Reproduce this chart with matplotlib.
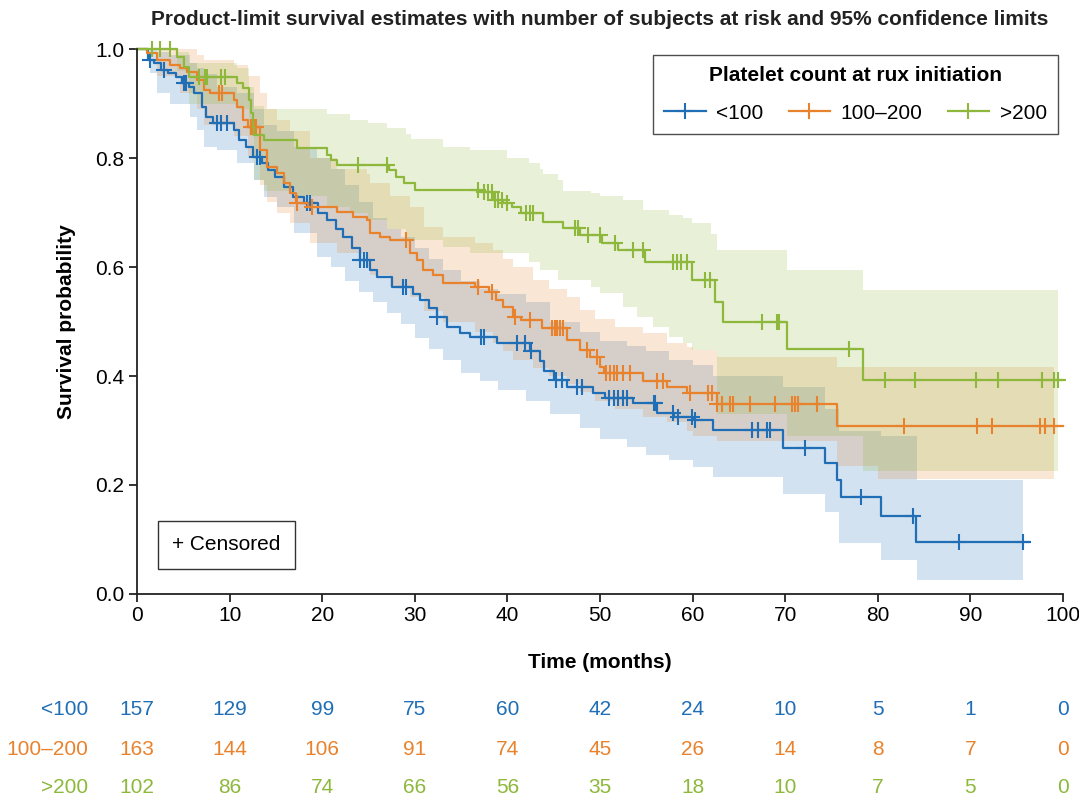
import numpy as np
import matplotlib
matplotlib.use("Agg")
import matplotlib.pyplot as plt
from matplotlib.lines import Line2D
from matplotlib.transforms import blended_transform_factory

plt.rcParams['font.family'] = ['Liberation Sans', 'DejaVu Sans']

groups = ["<100", "100\u2013200", ">200"]
colors = ["#1f6eb6", "#e9822c", "#8db83b"]

# Kaplan-Meier steps (months, survival after the event)
blue_t = [0, 1.2, 1.8, 2.6, 3.3, 4.2, 4.9, 5.6, 6.2, 7.0, 7.5, 8.2, 10.5, 11.0, 11.8, 12.5, 13.5, 14.2, 14.9, 15.9,
          16.9, 18.0, 19.5, 20.5, 21.5, 22.2, 23.2, 24.1, 25.2, 25.9, 27.5, 29.8, 30.6, 31.5, 32.4, 33.5, 34.9, 36.0,
          38.9, 42.5, 43.5, 44.0, 45.0, 46.4, 49.2, 50.5, 53.6, 56.2, 58.0, 60.0, 62.2, 69.8, 74.3, 75.6, 76.0, 80.4, 84.1]
blue_s = [1.0, 0.98, 0.974, 0.961, 0.956, 0.949, 0.937, 0.93, 0.919, 0.894, 0.875, 0.864, 0.851, 0.833, 0.82, 0.802,
          0.791, 0.778, 0.765, 0.747, 0.728, 0.717, 0.699, 0.686, 0.67, 0.655, 0.635, 0.613, 0.595, 0.582, 0.563, 0.55,
          0.539, 0.525, 0.508, 0.49, 0.479, 0.472, 0.46, 0.445, 0.428, 0.41, 0.393, 0.38, 0.369, 0.36, 0.35, 0.332,
          0.325, 0.319, 0.301, 0.268, 0.24, 0.209, 0.178, 0.143, 0.095]
blue_cens = [1.4, 2.9, 5.1, 5.3, 8.6, 9.1, 9.7, 13.0, 13.3, 18.4, 18.7, 24.1, 24.5, 24.8, 28.7, 29.1, 32.4, 37.2, 37.5,
             41.0, 41.9, 42.6, 45.3, 45.9, 47.5, 48.1, 51.0, 51.5, 52.0, 52.5, 52.9, 55.8, 56.0, 57.9, 58.4, 59.9, 60.3,
             66.4, 67.1, 68.0, 68.4, 72.1, 78.2, 83.8, 88.8, 95.7]
blue_end = 96.4

orange_t = [0, 1.1, 2.2, 3.6, 4.6, 5.4, 6.5, 7.2, 7.9, 10.5, 10.8, 11.5, 12.0, 13.3, 14.0, 15.1, 15.9, 16.5, 17.2,
            18.5, 21.6, 23.3, 24.8, 25.2, 26.2, 27.3, 29.5, 30.2, 30.9, 32.0, 33.0, 36.5, 38.0, 38.8, 39.5, 40.6, 41.5,
            43.7, 46.4, 47.8, 48.9, 50.0, 50.4, 54.6, 57.2, 59.4, 62.6, 75.6]
orange_s = [1.0, 0.992, 0.98, 0.971, 0.965, 0.958, 0.943, 0.925, 0.919, 0.906, 0.894, 0.87, 0.857, 0.815, 0.783,
            0.772, 0.754, 0.735, 0.717, 0.71, 0.701, 0.692, 0.686, 0.662, 0.655, 0.649, 0.626, 0.613, 0.594, 0.585,
            0.57, 0.563, 0.554, 0.54, 0.527, 0.508, 0.503, 0.488, 0.466, 0.448, 0.435, 0.417, 0.405, 0.39, 0.38,
            0.369, 0.349, 0.309]
orange_cens = [8.8, 9.2, 12.3, 12.5, 12.6, 12.7, 12.9, 17.3, 18.9, 29.1, 36.8, 38.3, 40.8, 42.4, 44.8, 45.1, 45.4,
               45.7, 46.0, 48.6, 49.7, 50.7, 51.1, 51.5, 51.8, 52.5, 53.2, 56.2, 56.8, 59.7, 61.7, 62.1, 62.6, 63.2,
               64.0, 64.4, 66.2, 68.9, 70.7, 71.1, 71.4, 73.5, 82.8, 90.7, 92.3, 97.5, 98.1, 99.1]
orange_end = 100

green_t = [0, 4.3, 5.1, 5.6, 10.8, 11.5, 12.1, 12.3, 12.5, 12.6, 13.7, 17.3, 20.5, 21.0, 21.6, 27.2, 28.0, 28.8,
           30.0, 37.2, 38.5, 39.5, 40.5, 41.5, 43.9, 46.0, 47.8, 50.2, 52.0, 54.9, 59.9, 62.4, 63.3, 70.2, 78.4]
green_s = [1.0, 0.986, 0.967, 0.949, 0.937, 0.928, 0.906, 0.882, 0.857, 0.842, 0.833, 0.818, 0.806, 0.797, 0.787,
           0.778, 0.766, 0.754, 0.741, 0.737, 0.723, 0.717, 0.71, 0.699, 0.683, 0.671, 0.659, 0.645, 0.631, 0.61,
           0.576, 0.536, 0.5, 0.449, 0.393]
green_cens = [1.6, 2.5, 3.6, 6.7, 7.3, 7.6, 9.1, 9.5, 23.9, 27.0, 36.8, 37.5, 37.9, 38.3, 38.7, 39.0, 39.4, 40.0, 42.0,
              42.4, 42.8, 47.3, 47.6, 48.7, 50.0, 51.6, 53.6, 54.6, 57.9, 58.3, 58.8, 59.4, 61.3, 61.9, 67.5, 69.1,
              69.3, 76.9, 80.8, 84.0, 90.6, 93.0, 97.7, 99.1, 99.5]
green_end = 100

# 95% confidence limits (steps)
blue_ci_t = [0, 1.4, 2.2, 3.6, 5.7, 6.5, 7.2, 8.6, 10.8, 12.6, 13.7, 15.1, 17.0, 19.4, 21.0, 22.5, 24.0, 25.5, 27.0,
             28.5, 30.0, 31.5, 33.0, 35.0, 37.0, 39.0, 42.0, 44.6, 47.8, 50.0, 52.9, 55.0, 57.5, 60.0, 62.2, 69.8,
             74.3, 75.8, 80.4, 84.3]
blue_lo = [1.0, 0.956, 0.92, 0.90, 0.875, 0.851, 0.82, 0.815, 0.79, 0.76, 0.728, 0.71, 0.662, 0.618, 0.60, 0.575,
           0.555, 0.535, 0.515, 0.495, 0.47, 0.45, 0.43, 0.405, 0.39, 0.375, 0.355, 0.33, 0.305, 0.285, 0.27, 0.255,
           0.245, 0.233, 0.215, 0.183, 0.15, 0.094, 0.062, 0.026]
blue_hi = [1.0, 1.0, 0.995, 0.99, 0.975, 0.965, 0.955, 0.93, 0.92, 0.89, 0.86, 0.85, 0.82, 0.80, 0.78, 0.75, 0.72,
           0.69, 0.67, 0.655, 0.635, 0.615, 0.595, 0.575, 0.56, 0.55, 0.535, 0.50, 0.48, 0.465, 0.455, 0.445, 0.43,
           0.42, 0.40, 0.38, 0.34, 0.30, 0.29, 0.209]
blue_ci_end = 95.7

orange_ci_t = [0, 2.2, 4.6, 6.5, 7.2, 10.5, 12.0, 13.3, 14.0, 15.1, 16.5, 18.7, 21.6, 24.8, 25.2, 27.3, 29.5, 31.0,
               33.0, 36.5, 38.5, 39.5, 40.6, 42.8, 44.5, 46.4, 47.8, 49.5, 51.6, 54.6, 57.2, 59.4, 60.0, 62.6, 75.6,
               80.0]
orange_lo = [1.0, 0.95, 0.92, 0.89, 0.86, 0.84, 0.80, 0.75, 0.72, 0.70, 0.68, 0.645, 0.625, 0.60, 0.585, 0.565,
             0.545, 0.52, 0.50, 0.48, 0.46, 0.445, 0.43, 0.415, 0.40, 0.385, 0.37, 0.355, 0.34, 0.325, 0.315, 0.30,
             0.29, 0.28, 0.235, 0.211]
orange_hi = [1.0, 1.0, 1.0, 0.99, 0.98, 0.97, 0.95, 0.92, 0.89, 0.87, 0.85, 0.80, 0.78, 0.77, 0.754, 0.73, 0.71,
             0.673, 0.655, 0.644, 0.631, 0.615, 0.60, 0.576, 0.56, 0.545, 0.521, 0.505, 0.49, 0.479, 0.46, 0.453,
             0.448, 0.435, 0.416, 0.416]
orange_ci_end = 99.1

green_ci_t = [0, 4.3, 5.6, 10.8, 12.1, 12.6, 13.7, 17.3, 20.5, 23.0, 25.0, 27.0, 29.0, 29.6, 33.0, 36.0, 40.0, 42.3,
              43.5, 43.9, 45.5, 46.0, 49.0, 50.0, 52.5, 54.0, 54.6, 55.7, 57.5, 59.0, 59.9, 62.0, 62.6, 70.2, 78.4]
green_lo = [1.0, 0.96, 0.90, 0.89, 0.84, 0.76, 0.74, 0.73, 0.71, 0.70, 0.686, 0.67, 0.65, 0.65, 0.637, 0.626, 0.626,
            0.609, 0.594, 0.594, 0.576, 0.576, 0.563, 0.552, 0.527, 0.508, 0.508, 0.49, 0.472, 0.46, 0.448, 0.448,
            0.33, 0.29, 0.226]
green_hi = [1.0, 0.995, 0.975, 0.965, 0.93, 0.895, 0.89, 0.89, 0.88, 0.87, 0.865, 0.855, 0.845, 0.835, 0.82, 0.815,
            0.80, 0.79, 0.78, 0.77, 0.76, 0.74, 0.735, 0.73, 0.723, 0.723, 0.705, 0.705, 0.695, 0.69, 0.68, 0.66,
            0.631, 0.594, 0.557]
green_ci_end = 99.5

# number at risk
risk_times = [0, 10, 20, 30, 40, 50, 60, 70, 80, 90, 100]
risk_blue = [157, 129, 99, 75, 60, 42, 24, 10, 5, 1, 0]
risk_orange = [163, 144, 106, 91, 74, 45, 26, 14, 8, 7, 0]
risk_green = [102, 86, 74, 66, 56, 35, 18, 10, 7, 5, 0]

curves = [(blue_t, blue_s, blue_cens, blue_end), (orange_t, orange_s, orange_cens, orange_end),
          (green_t, green_s, green_cens, green_end)]
bands = [(blue_ci_t, blue_lo, blue_hi, blue_ci_end), (orange_ci_t, orange_lo, orange_hi, orange_ci_end),
         (green_ci_t, green_lo, green_hi, green_ci_end)]
risks = [risk_blue, risk_orange, risk_green]

FS = 15

fig = plt.figure(figsize=(10.79, 7.99), dpi=100)
ax = fig.add_axes([0.127, 0.2566, 0.858, 0.682])

for (t, lo, hi, end), c in zip(bands, colors):
    x = np.append(t, end)
    ax.fill_between(x, np.append(lo, lo[-1]), np.append(hi, hi[-1]), step='post',
                    color=c, alpha=0.2, linewidth=0)

for (t, s, cens, end), c, g in zip(curves, colors, groups):
    x = np.append(t, end)
    y = np.append(s, s[-1])
    ax.plot(x, y, drawstyle='steps-post', color=c, lw=1.6, clip_on=False)
    t_arr = np.array(t)
    s_arr = np.array(s)
    idx = np.searchsorted(t_arr, cens, side='right') - 1
    ax.plot(cens, s_arr[idx], ls='none', marker='+', ms=11, mew=1.5, color=c, clip_on=False)

ax.set_xlim(0, 100)
ax.set_ylim(0, 1.0)
ax.set_xticks(risk_times)
ax.set_yticks(np.arange(0, 1.01, 0.2))
ax.set_yticklabels([f"{v:.1f}" for v in np.arange(0, 1.01, 0.2)])
for side in ['top', 'right']:
    ax.spines[side].set_visible(False)
for side in ['left', 'bottom']:
    ax.spines[side].set_linewidth(1.3)
    ax.spines[side].set_color('#222222')
ax.tick_params(direction='out', length=6, width=1.3, labelsize=FS, color='#222222', pad=3)

ax.set_xlabel("Time (months)", fontsize=FS, fontweight='bold', labelpad=20)
ax.set_ylabel("Survival probability", fontsize=FS, fontweight='bold', labelpad=14)
fig.text(0.556, 0.975, "Product-limit survival estimates with number of subjects at risk and 95% confidence limits",
         ha='center', va='center', fontsize=FS, fontweight='bold', color='#222222')

handles = [Line2D([], [], color=c, lw=1.6, marker='+', ms=12, mew=1.5) for c in colors]
leg = ax.legend(handles, groups, title="Platelet count at rux initiation", ncol=3, loc='upper right',
                bbox_to_anchor=(0.995, 0.99), fontsize=FS, frameon=True, fancybox=False,
                handlelength=2.0, columnspacing=1.2, handletextpad=0.5, borderpad=0.55, borderaxespad=0,
                labelspacing=0.9)
leg.get_title().set_fontweight('bold')
leg.get_title().set_fontsize(FS)
leg.get_frame().set_edgecolor('#222222')
leg.get_frame().set_linewidth(1.0)

ax.text(0.038, 0.09, "+ Censored", transform=ax.transAxes, fontsize=FS, va='center', ha='left',
        bbox=dict(boxstyle='square,pad=0.7', fc='white', ec='#333333', lw=1.0))

trans = blended_transform_factory(ax.transData, fig.transFigure)
row_y = [0.112, 0.062, 0.015]
for g, c, r, yy in zip(groups, colors, risks, row_y):
    fig.text(0.082, yy, g, ha='right', va='center', fontsize=FS, color=c)
    for tt, n in zip(risk_times, r):
        ax.text(tt, yy, str(n), transform=trans, ha='center', va='center', fontsize=FS, color=c, clip_on=False)

fig.savefig("out.png", dpi=100)
